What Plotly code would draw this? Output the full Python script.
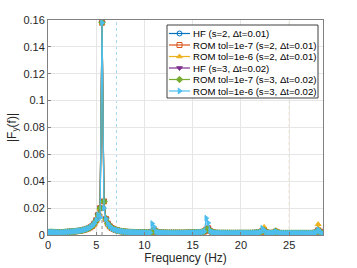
import numpy as np
import plotly.graph_objects as go

# frequency grid (Hz)
freq = np.round(np.arange(0, 28.41, 0.2), 2)

# base spectrum |F_y(f)| (HF, s=2)
hf_s2 = [
    0.0015, 0.0022, 0.0022, 0.0021, 0.0021, 0.0020, 0.0018, 0.0020, 0.0021, 0.0022,
    0.0023, 0.0024, 0.0025, 0.0026, 0.0027, 0.0029, 0.0031, 0.0033, 0.0036, 0.0040,
    0.0044, 0.0050, 0.0058, 0.0068, 0.0085, 0.0110, 0.0150, 0.0200, 0.1580, 0.0250,
    0.0120, 0.0085, 0.0065, 0.0052, 0.0044, 0.0038, 0.0034, 0.0031, 0.0028, 0.0026,
    0.0024, 0.0023, 0.0022, 0.0021, 0.0021, 0.0020, 0.0020, 0.0019, 0.0019, 0.0018,
    0.0018, 0.0018, 0.0017, 0.0017, 0.0022, 0.0038, 0.0026, 0.0020, 0.0018, 0.0017,
    0.0017, 0.0016, 0.0016, 0.0016, 0.0016, 0.0016, 0.0016, 0.0016, 0.0016, 0.0016,
    0.0016, 0.0016, 0.0017, 0.0017, 0.0017, 0.0018, 0.0018, 0.0019, 0.0020, 0.0021,
    0.0023, 0.0026, 0.0040, 0.0050, 0.0030, 0.0022, 0.0018, 0.0016, 0.0015, 0.0015,
    0.0015, 0.0015, 0.0015, 0.0015, 0.0015, 0.0015, 0.0015, 0.0015, 0.0015, 0.0015,
    0.0015, 0.0015, 0.0015, 0.0015, 0.0015, 0.0015, 0.0015, 0.0016, 0.0017, 0.0018,
    0.0020, 0.0030, 0.0035, 0.0020, 0.0016, 0.0015, 0.0015, 0.0016, 0.0025, 0.0018,
    0.0015, 0.0014, 0.0014, 0.0014, 0.0014, 0.0014, 0.0014, 0.0014, 0.0014, 0.0014,
    0.0014, 0.0014, 0.0014, 0.0014, 0.0014, 0.0014, 0.0014, 0.0014, 0.0016, 0.0020,
    0.0035, 0.0025, 0.0010,
]

# values where a series departs from the HF s=2 spectrum {freq: value}
dev_hf_s2 = {}
dev_rom7_s2 = {}
dev_rom6_s2 = {16.6: 0.0055, 22.4: 0.0060, 28.0: 0.0080}
dev_hf_s3 = {10.8: 0.0030, 16.4: 0.0030}
dev_rom7_s3 = {11.0: 0.0042, 16.6: 0.0045, 23.6: 0.0030}
dev_rom6_s3 = {5.4: 0.0130, 5.8: 0.0200, 10.8: 0.0085, 11.0: 0.0060,
               16.4: 0.0125, 16.6: 0.0090, 22.2: 0.0050, 28.0: 0.0040}

names = ["HF (s=2, Δt=0.01)", "ROM tol=1e-7 (s=2, Δt=0.01)", "ROM tol=1e-6 (s=2, Δt=0.01)",
         "HF (s=3, Δt=0.02)", "ROM tol=1e-7 (s=3, Δt=0.02)", "ROM tol=1e-6 (s=3, Δt=0.02)"]
devs = [dev_hf_s2, dev_rom7_s2, dev_rom6_s2, dev_hf_s3, dev_rom7_s3, dev_rom6_s3]
colors = ["#0072BD", "#D95319", "#EDB120", "#7E2F8E", "#77AC30", "#4DBEEE"]
symbols = ["circle-open", "square-open", "triangle-up", "triangle-down", "diamond", "triangle-right"]

# reference frequency markers (dotted)
ref_x = [7.1, 25.0]
ref_colors = ["#a8d8f0", "#e8c898"]
peak_marker_x = [5.6]

FONT = "Liberation Sans, Arial, sans-serif"

fig = go.Figure()
for name, dev, c, s in zip(names, devs, colors, symbols):
    y = [dev.get(float(f), v) for f, v in zip(freq, hf_s2)]
    fig.add_trace(go.Scatter(
        x=freq, y=y, mode="lines+markers", name=name, showlegend=False,
        line=dict(color=c, width=1.2),
        marker=dict(symbol=s, size=5, color=c, line=dict(color=c, width=1)),
    ))

# ---- compact legend drawn on a hidden pixel-space overlay axis (plot area pixels) ----
leg_box_x = [167, 318, 318, 167, 167]
leg_box_y = [25, 25, 98, 98, 25]
leg_row_y = [33.5, 45.0, 56.5, 68.0, 79.5, 91.0]
leg_line_x = (169, 190)
leg_text_x = 191

fig.add_trace(go.Scatter(
    x=leg_box_x, y=leg_box_y, mode="lines", fill="toself", fillcolor="white",
    line=dict(color="#404040", width=1), xaxis="x2", yaxis="y2",
    showlegend=False, hoverinfo="skip"))

annotations = []
for name, c, s, ry in zip(names, colors, symbols, leg_row_y):
    fig.add_trace(go.Scatter(
        x=[leg_line_x[0], leg_line_x[1]], y=[ry, ry], mode="lines",
        line=dict(color=c, width=1.2), xaxis="x2", yaxis="y2",
        showlegend=False, hoverinfo="skip"))
    fig.add_trace(go.Scatter(
        x=[(leg_line_x[0] + leg_line_x[1]) / 2], y=[ry], mode="markers",
        marker=dict(symbol=s, size=5, color=c, line=dict(color=c, width=1)),
        xaxis="x2", yaxis="y2", showlegend=False, hoverinfo="skip"))
    annotations.append(dict(
        x=leg_text_x, y=ry, xref="x2", yref="y2", text=name, showarrow=False,
        xanchor="left", yanchor="middle",
        font=dict(family=FONT, size=9.6, color="#000000")))

shapes = []
for xv, c in zip(ref_x, ref_colors):
    shapes.append(dict(type="line", xref="x", yref="paper", x0=xv, x1=xv, y0=0, y1=1,
                       line=dict(color=c, width=1, dash="dot"), layer="below"))
for xv in peak_marker_x:
    shapes.append(dict(type="line", xref="x", yref="y", x0=xv, x1=xv, y0=0, y1=0.02,
                       line=dict(color="#888888", width=1, dash="dot"), layer="below"))

axis_common = dict(
    showline=True, linecolor="#808080", linewidth=1, mirror=True,
    showgrid=True, gridcolor="#e6e6e6", gridwidth=1,
    ticks="inside", ticklen=3, tickcolor="#808080",
    tickfont=dict(family=FONT, size=11, color="#262626"),
    zeroline=False, automargin=False,
)

fig.update_layout(
    width=357, height=268,
    margin=dict(l=48, r=34, t=20, b=33),
    paper_bgcolor="white", plot_bgcolor="white",
    font=dict(family=FONT, size=11, color="#262626"),
    showlegend=False,
    shapes=shapes,
    annotations=annotations,
    xaxis=dict(range=[0, 28.5], tickvals=[0, 5, 10, 15, 20, 25],
               title=dict(text="Frequency (Hz)", standoff=3, font=dict(size=12)),
               **axis_common),
    yaxis=dict(range=[0, 0.16],
               tickvals=[0, 0.02, 0.04, 0.06, 0.08, 0.1, 0.12, 0.14, 0.16],
               ticktext=["0", "0.02", "0.04", "0.06", "0.08", "0.1", "0.12", "0.14", "0.16"],
               title=dict(text="|F<sub>y</sub>(f)|", standoff=4, font=dict(size=12)),
               **axis_common),
    xaxis2=dict(overlaying="x", range=[48, 323], visible=False, fixedrange=True),
    yaxis2=dict(overlaying="y", range=[235, 20], visible=False, fixedrange=True),
)

fig.write_html("out.html", config={"displayModeBar": False},
               post_script="document.body.style.margin='0';")
